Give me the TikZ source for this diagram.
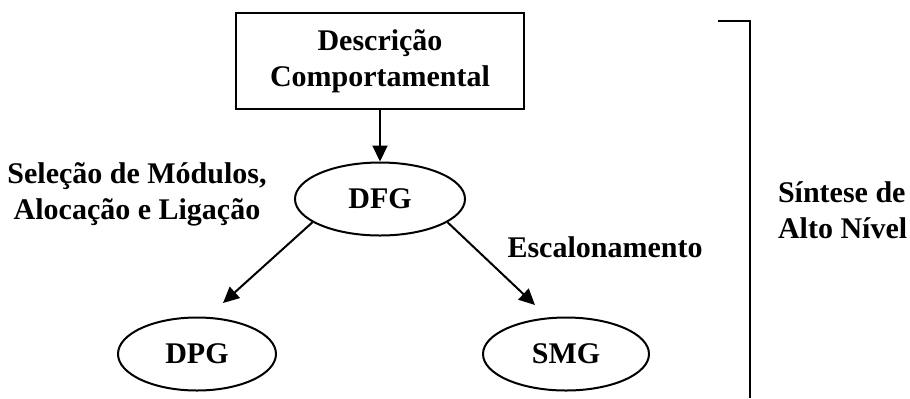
\documentclass[tikz,border=0pt]{standalone}
\usepackage{fontspec}
\setmainfont{Liberation Serif}
\usetikzlibrary{arrows.meta,shapes.geometric}
\begin{document}
\begin{tikzpicture}[x=0.5pt,y=-0.5pt,
  line width=1pt,
  txt/.style={font=\bfseries\fontsize{15}{18}\selectfont, inner sep=0pt},
  stepbox/.style={txt, draw, align=center, minimum width=144pt, minimum height=48pt},
  graphnode/.style={txt, draw, ellipse, minimum height=36.5pt},
  arr/.style={-{Triangle[length=8pt,width=7.5pt]}}]
\useasboundingbox (0,0) rectangle (910,398);

% behavioural description and the graphs derived from it
\node[stepbox] (desc) at (380,61) {Descrição\\Comportamental};
\node[graphnode, minimum width=85pt] (dfg) at (380,199) {DFG};
\node[graphnode, minimum width=79pt] (dpg) at (197,354) {DPG};
\node[graphnode, minimum width=83pt] (smg) at (566,354) {SMG};

% free arrow ends above the lower graphs
\coordinate (tipL) at (223,303);
\coordinate (tipR) at (535,305);

\draw[arr] (desc.south) -- (dfg.north);
\draw[arr] (dfg.-161) -- (tipL);
\draw[arr] (dfg.-19) -- (tipR);

% step labels
\node[txt, align=center] (lblL) at (137,194) {Seleção de Módulos,\\Alocação e Ligação};
\node[txt, anchor=base] (lblR) at (605,257) {Escalonamento};

% bracket marking the high-level synthesis scope
\coordinate (brT) at (718,21);
\coordinate (brC) at (750,21);
\coordinate (brB) at (750,398);
\draw (brT) -- (brC) -- (brB);
\node[txt, align=left, anchor=west] (scope) at (777,210) {Síntese de\\Alto Nível};
\end{tikzpicture}
\end{document}
